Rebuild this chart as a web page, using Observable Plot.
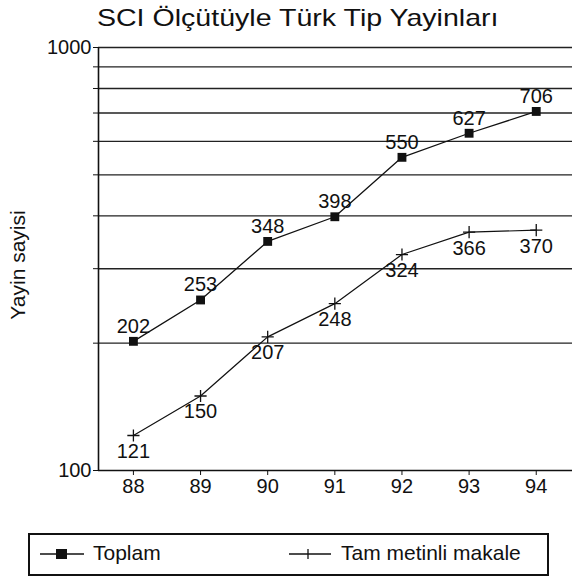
<!DOCTYPE html>
<html><head><meta charset="utf-8">
<script src="https://cdn.jsdelivr.net/npm/d3@7"></script>
<script src="https://cdn.jsdelivr.net/npm/@observablehq/plot@0.6"></script>
<style>
body{margin:0;background:#fff;font-family:"Liberation Sans",Arial,sans-serif;color:#111;}
#wrap{position:relative;width:572px;height:584px;overflow:hidden;background:#fff}
#title{position:absolute;left:0;top:3px;width:596px;text-align:center;font-size:24px;line-height:30px;z-index:2}
#title span{display:inline-block;transform:scaleX(1.19);}
#ylabel{position:absolute;left:18px;top:265px;transform:translate(-50%,-50%) rotate(-90deg);font-size:21px;white-space:nowrap;z-index:2}
#chart{position:absolute;left:0;top:0}
#legend{position:absolute;left:28px;top:533px;width:521px;height:43px;border:2px solid #111;box-sizing:border-box;font-size:21px}
.sw{position:absolute;top:8px}
.lt{position:absolute;top:7px;line-height:22px;white-space:nowrap}
</style></head>
<body>
<div id="wrap">
  <div id="title"><span>SCI Ölçütüyle Türk Tip Yayinları</span></div>
  <div id="ylabel">Yayin sayisi</div>
  <div id="chart"></div>
  <div id="legend">
    <svg class="sw" style="left:8px" width="48" height="22"><line x1="2" x2="46" y1="11" y2="11" stroke="#111" stroke-width="1.5"/><rect x="18" y="6" width="11" height="10" fill="#111"/></svg>
    <span class="lt" style="left:63px">Toplam</span>
    <svg class="sw" style="left:257px" width="46" height="22"><line x1="2" x2="44" y1="11" y2="11" stroke="#111" stroke-width="1.3"/><line x1="21" x2="21" y1="6" y2="16" stroke="#111" stroke-width="1.3"/></svg>
    <span class="lt" style="left:311px">Tam metinli makale</span>
  </div>
</div>
<script>
const years = [88, 89, 90, 91, 92, 93, 94];
const toplam = [202, 253, 348, 398, 550, 627, 706];
const tamMetinli = [121, 150, 207, 248, 324, 366, 370];
const gridValues = [200, 300, 400, 500, 600, 700, 800, 900, 1000];
const yTicks = [100, 200, 300, 400, 500, 600, 700, 800, 900, 1000];
const yTickLabels = [100, 1000];
const xDomain = [87.48, 94.54];
const yDomain = [100, 1000];

const dataToplam = years.map((y, i) => ({year: y, value: toplam[i]}));
const dataTam = years.map((y, i) => ({year: y, value: tamMetinli[i]}));

const chart = Plot.plot({
  width: 572,
  height: 510,
  marginTop: 47,
  marginBottom: 40,
  marginLeft: 98,
  marginRight: 0,
  style: {fontFamily: '"Liberation Sans", Arial, sans-serif', fontSize: "20px", color: "#111", background: "transparent", overflow: "visible"},
  x: {type: "linear", domain: xDomain, ticks: years, tickFormat: d => String(d), tickSize: 5, tickPadding: 3, label: null},
  y: {type: "log", domain: yDomain, ticks: yTicks, tickFormat: d => yTickLabels.includes(d) ? String(d) : "", tickSize: 5, tickPadding: 2, label: null},
  marks: [
    Plot.ruleY(gridValues, {stroke: "#222", strokeWidth: 1.4}),
    Plot.ruleY([yDomain[0]], {stroke: "#111", strokeWidth: 1.6}),
    Plot.ruleX([xDomain[0]], {stroke: "#111", strokeWidth: 1.6}),
    Plot.line(dataToplam, {x: "year", y: "value", stroke: "#111", strokeWidth: 1.3}),
    Plot.line(dataTam, {x: "year", y: "value", stroke: "#111", strokeWidth: 1.2}),
    Plot.dot(dataToplam, {x: "year", y: "value", symbol: "square", r: 5, fill: "#111", stroke: "none"}),
    Plot.dot(dataTam, {x: "year", y: "value", symbol: "plus", r: 4, stroke: "#111", fill: "none", strokeWidth: 1.3}),
    Plot.text(dataToplam, {x: "year", y: "value", text: d => String(d.value), dy: -15, fontSize: 20, fill: "#111"}),
    Plot.text(dataTam, {x: "year", y: "value", text: d => String(d.value), dy: 16, fontSize: 20, fill: "#111"})
  ]
});
document.getElementById("chart").appendChild(chart);
</script>
</body></html>
